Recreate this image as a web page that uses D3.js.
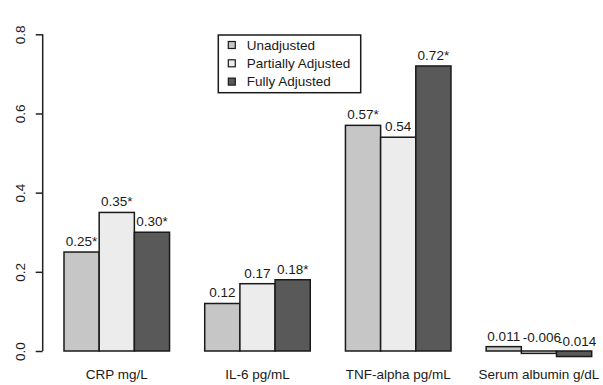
<!DOCTYPE html>
<html>
<head>
<meta charset="utf-8">
<script src="https://cdn.jsdelivr.net/npm/d3@7"></script>
<style>
  body { margin: 0; background: #fff; }
  svg { display: block; font-family: "Liberation Sans", Arial, sans-serif; }
</style>
</head>
<body>
<svg id="chart" width="603" height="385"></svg>
<script>
const categories = ['CRP mg/L', 'IL-6 pg/mL', 'TNF-alpha pg/mL', 'Serum albumin g/dL']
const series = ['Unadjusted', 'Partially Adjusted', 'Fully Adjusted']
const unadjusted = [0.25, 0.12, 0.57, 0.011]
const partial = [0.35, 0.17, 0.54, -0.006]
const full = [0.30, 0.18, 0.72, -0.014]
const unadjLabels = ['0.25*', '0.12', '0.57*', '0.011']
const partialLabels = ['0.35*', '0.17', '0.54', '-0.006']
const fullLabels = ['0.30*', '0.18*', '0.72*', '-0.014']
const yTicks = [0.0, 0.2, 0.4, 0.6, 0.8]

const colors = ['#c6c6c6', '#ececec', '#595959']
const values = [unadjusted, partial, full]
const labels = [unadjLabels, partialLabels, fullLabels]
const fontSize = '13.5px'

const svg = d3.select('#chart')

const y = d3.scaleLinear().domain([0, 0.8]).range([351, 34.3])

const x0 = d3.scaleBand()
    .domain(categories)
    .range([64, 591.7])
    .paddingInner(0.25)
    .paddingOuter(0)

const x1 = d3.scaleBand()
    .domain(series)
    .range([0, x0.bandwidth()])

// flatten into one row per bar
const bars = []
categories.forEach((c, ci) => {
    series.forEach((s, si) => {
        bars.push({cat: c, ser: s, si: si, v: values[si][ci], label: labels[si][ci]})
    })
})

svg.append('g')
    .selectAll('rect')
    .data(bars)
    .join('rect')
    .attr('x', d => x0(d.cat) + x1(d.ser))
    .attr('y', d => y(Math.max(0, d.v)))
    .attr('width', x1.bandwidth())
    .attr('height', d => Math.abs(y(d.v) - y(0)))
    .attr('fill', d => colors[d.si])
    .attr('stroke', '#1a1a1a')
    .attr('stroke-width', 1.5)

svg.append('g')
    .selectAll('text')
    .data(bars)
    .join('text')
    .attr('x', d => x0(d.cat) + x1(d.ser) + x1.bandwidth() / 2 + (d.v < 0 ? 3 : 0))
    .attr('y', d => y(d.v) - (d.v < 0 ? 11 : 6))
    .attr('text-anchor', 'middle')
    .style('font-size', fontSize)
    .attr('fill', '#1a1a1a')
    .text(d => d.label)

// category labels
svg.append('g')
    .selectAll('text')
    .data(categories)
    .join('text')
    .attr('x', d => x0(d) + x0.bandwidth() / 2)
    .attr('y', 379)
    .attr('text-anchor', 'middle')
    .style('font-size', fontSize)
    .attr('fill', '#1a1a1a')
    .text(d => d)

// y axis, R style
const yAxis = svg.append('g')
    .attr('transform', 'translate(42.7,0)')
    .call(d3.axisLeft(y).tickValues(yTicks).tickSize(7).tickFormat(d3.format('.1f')))

yAxis.select('.domain')
    .attr('d', `M0,${y(0)}V${y(0.8)}`)
    .attr('stroke', '#222')
    .attr('stroke-width', 1.5)
yAxis.selectAll('.tick line').attr('stroke', '#222').attr('stroke-width', 1.5)
yAxis.selectAll('.tick text')
    .attr('x', null)
    .attr('dy', null)
    .attr('transform', 'translate(-18,0) rotate(-90)')
    .attr('text-anchor', 'middle')
    .style('font-size', fontSize)
    .style('font-family', '"Liberation Sans", Arial, sans-serif')
    .attr('fill', '#1a1a1a')

// legend
const legend = svg.append('g').attr('transform', 'translate(218.3,35)')
legend.append('rect')
    .attr('width', 142.4)
    .attr('height', 57.7)
    .attr('fill', '#fff')
    .attr('stroke', '#1a1a1a')
    .attr('stroke-width', 1.5)

const rows = legend.selectAll('g.row')
    .data(series)
    .join('g')
    .attr('class', 'row')
    .attr('transform', (d, i) => `translate(0,${10 + i * 18.3})`)

rows.append('rect')
    .attr('x', 10)
    .attr('y', -3.5)
    .attr('width', 7)
    .attr('height', 7)
    .attr('fill', (d, i) => colors[i])
    .attr('stroke', '#1a1a1a')
    .attr('stroke-width', 1.2)

rows.append('text')
    .attr('x', 28.4)
    .attr('y', 4.8)
    .style('font-size', fontSize)
    .attr('fill', '#1a1a1a')
    .text(d => d)
</script>
</body>
</html>
